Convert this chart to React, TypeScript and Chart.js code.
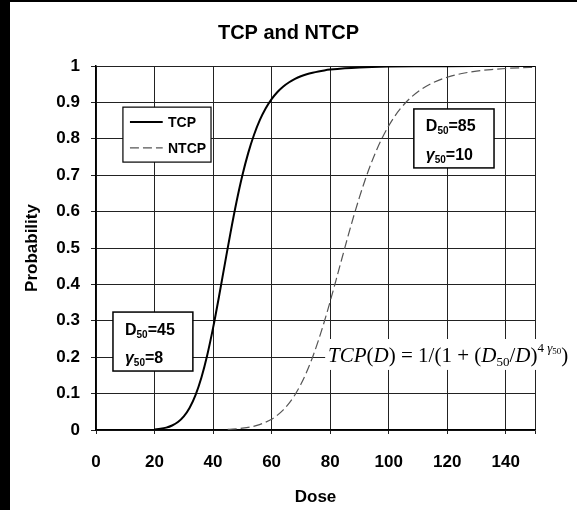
import React, { useEffect, useRef } from 'react';
import { Chart, registerables } from 'chart.js';

Chart.register(...registerables);

// ---------- data ----------
const TITLE = 'TCP and NTCP';
const X_TITLE = 'Dose';
const Y_TITLE = 'Probability';
const SERIES_NAMES = ['TCP', 'NTCP'];

const X_TICKS = [0, 20, 40, 60, 80, 100, 120, 140, 150];
const Y_TICKS = [0, 0.1, 0.2, 0.3, 0.4, 0.5, 0.6, 0.7, 0.8, 0.9, 1];

const TCP_DOSE = [20, 22, 24, 26, 28, 30, 32, 34, 36, 38, 40, 42, 44, 46, 48, 50, 52, 54, 56, 58, 60, 62, 64, 66, 68, 70, 72, 74, 76, 78, 80, 85, 90, 100, 110, 120, 130, 140, 150];
const TCP_VALUES = [0.0015, 0.0033, 0.0065, 0.0123, 0.022, 0.0376, 0.0614, 0.096, 0.1437, 0.2055, 0.2805, 0.3654, 0.4552, 0.5438, 0.6263, 0.6991, 0.7607, 0.8112, 0.8519, 0.8839, 0.909, 0.9285, 0.9437, 0.9554, 0.9645, 0.9717, 0.9773, 0.9816, 0.9851, 0.9879, 0.9901, 0.9939, 0.9961, 0.9983, 0.9992, 0.9996, 0.9998, 0.9999, 0.9999];

const NTCP_DOSE = [45, 50, 55, 60, 62, 64, 66, 68, 70, 72, 74, 76, 78, 80, 82, 84, 86, 88, 90, 92, 94, 96, 98, 100, 102, 104, 106, 108, 110, 115, 120, 125, 130, 135, 140, 145, 150];
const NTCP_VALUES = [0.0017, 0.0049, 0.0127, 0.0298, 0.0409, 0.0553, 0.0738, 0.097, 0.1255, 0.1598, 0.2001, 0.2462, 0.2975, 0.3529, 0.4112, 0.4704, 0.5292, 0.5859, 0.6391, 0.6882, 0.7323, 0.7716, 0.8059, 0.8355, 0.861, 0.8826, 0.901, 0.9164, 0.9294, 0.9536, 0.9692, 0.9793, 0.9859, 0.9903, 0.9932, 0.9952, 0.9966];

const TCP_PARAMS = ['45', '8'];
const NTCP_PARAMS = ['85', '10'];

// ---------- layout (data coordinates) ----------
const SANS = '"Liberation Sans", Arial, Helvetica, sans-serif';
const SERIF = '"Liberation Serif", "Times New Roman", Times, serif';

const LEGEND_BOX = { x0: 9.2, x1: 39.3, y0: 0.887, y1: 0.736, lineX0: 11.6, lineX1: 22.8, textX: 24.6, rows: [0.846, 0.775] };
const TCP_BOX = { x0: 5.8, x1: 33.1, y0: 0.324, y1: 0.162 };
const NTCP_BOX = { x0: 108.6, x1: 136, y0: 0.882, y1: 0.72 };
const FORMULA = { x: 79.3, y: 0.206, bgX0: 78.3, bgY0: 0.25, bgY1: 0.165 };

type Run = { t: string; font: string; dy?: number };

function drawRuns(ctx: CanvasRenderingContext2D, runs: Run[], x: number, baseline: number) {
  let cx = x;
  for (const r of runs) {
    ctx.font = r.font;
    ctx.fillText(r.t, cx, baseline + (r.dy || 0));
    cx += ctx.measureText(r.t).width;
  }
}

const bgPlugin = {
  id: 'bg',
  beforeDraw(chart: any) {
    const { ctx, width, height } = chart;
    ctx.save();
    ctx.fillStyle = '#fff';
    ctx.fillRect(0, 0, width, height);
    ctx.fillStyle = '#000';
    ctx.fillRect(0, 0, 10, height);
    ctx.fillRect(0, 0, width, 2);
    ctx.restore();
  },
};

function paramBox(ctx: CanvasRenderingContext2D, chart: any, box: any, params: string[]) {
  const xs = chart.scales.x;
  const ys = chart.scales.y;
  const x0 = xs.getPixelForValue(box.x0);
  const x1 = xs.getPixelForValue(box.x1);
  const y0 = ys.getPixelForValue(box.y0);
  const y1 = ys.getPixelForValue(box.y1);
  ctx.fillStyle = '#fff';
  ctx.fillRect(x0, y0, x1 - x0, y1 - y0);
  ctx.strokeStyle = '#000';
  ctx.lineWidth = 1.5;
  ctx.strokeRect(x0, y0, x1 - x0, y1 - y0);
  const h = y1 - y0;
  ctx.fillStyle = '#000';
  ctx.textBaseline = 'alphabetic';
  ctx.textAlign = 'left';
  const big = `bold 16px ${SANS}`;
  const small = `bold 10px ${SANS}`;
  drawRuns(ctx, [
    { t: 'D', font: big },
    { t: '50', font: small, dy: 3 },
    { t: '=' + params[0], font: big },
  ], x0 + 12, y0 + h * 0.28 + 6);
  drawRuns(ctx, [
    { t: 'γ', font: `italic bold 16px ${SANS}` },
    { t: '50', font: small, dy: 3 },
    { t: '=' + params[1], font: big },
  ], x0 + 12, y0 + h * 0.76 + 6);
}

const annotPlugin = {
  id: 'annot',
  afterDraw(chart: any) {
    const { ctx } = chart;
    const xs = chart.scales.x;
    const ys = chart.scales.y;
    ctx.save();

    // legend
    const lx0 = xs.getPixelForValue(LEGEND_BOX.x0);
    const lx1 = xs.getPixelForValue(LEGEND_BOX.x1);
    const ly0 = ys.getPixelForValue(LEGEND_BOX.y0);
    const ly1 = ys.getPixelForValue(LEGEND_BOX.y1);
    ctx.fillStyle = '#fff';
    ctx.fillRect(lx0, ly0, lx1 - lx0, ly1 - ly0);
    ctx.strokeStyle = '#000';
    ctx.lineWidth = 1.2;
    ctx.strokeRect(lx0, ly0, lx1 - lx0, ly1 - ly0);
    chart.data.datasets.forEach((ds: any, i: number) => {
      const yy = ys.getPixelForValue(LEGEND_BOX.rows[i]);
      ctx.beginPath();
      ctx.strokeStyle = ds.borderColor;
      ctx.lineWidth = ds.borderWidth;
      ctx.setLineDash(ds.borderDash || []);
      ctx.moveTo(xs.getPixelForValue(LEGEND_BOX.lineX0), yy);
      ctx.lineTo(xs.getPixelForValue(LEGEND_BOX.lineX1), yy);
      ctx.stroke();
      ctx.setLineDash([]);
      ctx.fillStyle = '#000';
      ctx.font = `bold 14px ${SANS}`;
      ctx.textBaseline = 'middle';
      ctx.textAlign = 'left';
      ctx.fillText(ds.label, xs.getPixelForValue(LEGEND_BOX.textX), yy + 1);
    });

    paramBox(ctx, chart, TCP_BOX, TCP_PARAMS);
    paramBox(ctx, chart, NTCP_BOX, NTCP_PARAMS);

    // formula
    const fx = xs.getPixelForValue(FORMULA.x);
    const fy = ys.getPixelForValue(FORMULA.y);
    const bx0 = xs.getPixelForValue(FORMULA.bgX0);
    const by0 = ys.getPixelForValue(FORMULA.bgY0);
    const by1 = ys.getPixelForValue(FORMULA.bgY1);
    ctx.fillStyle = '#fff';
    ctx.fillRect(bx0, by0, chart.width - bx0, by1 - by0);
    ctx.fillStyle = '#000';
    ctx.textBaseline = 'alphabetic';
    ctx.textAlign = 'left';
    const it = `italic 21px ${SERIF}`;
    const rg = `21px ${SERIF}`;
    drawRuns(ctx, [
      { t: 'TCP', font: it },
      { t: '(', font: rg },
      { t: 'D', font: it },
      { t: ') = 1/(1 + (', font: rg },
      { t: 'D', font: it },
      { t: '50', font: `13px ${SERIF}`, dy: 4 },
      { t: '/', font: rg },
      { t: 'D', font: it },
      { t: ')', font: rg },
      { t: '4 ', font: `13px ${SERIF}`, dy: -10 },
      { t: 'γ', font: `italic 13px ${SERIF}`, dy: -10 },
      { t: '50', font: `9px ${SERIF}`, dy: -8 },
      { t: ')', font: rg },
    ], fx, fy + 7);

    ctx.restore();
  },
};

export default function App() {
  const ref = useRef<HTMLCanvasElement>(null);

  useEffect(() => {
    const canvas = ref.current;
    if (!canvas) return;
    const tickFont = { family: SANS, size: 17, weight: 'bold' as const };
    const chart = new Chart(canvas, {
      type: 'line',
      data: {
        datasets: [
          {
            label: SERIES_NAMES[0],
            data: TCP_DOSE.map((d, i) => ({ x: d, y: TCP_VALUES[i] })),
            borderColor: '#000',
            borderWidth: 2,
            pointRadius: 0,
            fill: false,
            cubicInterpolationMode: 'monotone',
          },
          {
            label: SERIES_NAMES[1],
            data: NTCP_DOSE.map((d, i) => ({ x: d, y: NTCP_VALUES[i] })),
            borderColor: '#555',
            borderWidth: 1.2,
            borderDash: [9, 4],
            pointRadius: 0,
            fill: false,
            cubicInterpolationMode: 'monotone',
          },
        ],
      },
      options: {
        responsive: false,
        animation: false,
        devicePixelRatio: 1,
        layout: { padding: 0 },
        plugins: {
          legend: { display: false },
          tooltip: { enabled: false },
          title: {
            display: true,
            text: TITLE,
            color: '#000',
            font: { family: SANS, size: 20, weight: 'bold' },
            padding: { top: 21, bottom: 21 },
          },
        },
        scales: {
          x: {
            type: 'linear',
            min: 0,
            max: 150,
            afterBuildTicks: (s: any) => {
              s.ticks = X_TICKS.map((v) => ({ value: v }));
            },
            afterFit: (s: any) => {
              s.height = 80;
            },
            ticks: {
              callback: (v: any) => (v === 150 ? '' : String(v)),
              color: '#000',
              font: tickFont,
              padding: 18,
              maxRotation: 0,
              autoSkip: false,
            },
            grid: { color: '#222', lineWidth: 1, tickLength: 4, drawTicks: true },
            border: { color: '#000', width: 1.5 },
            title: {
              display: true,
              text: X_TITLE,
              color: '#000',
              font: { family: SANS, size: 17, weight: 'bold' },
              padding: { top: 0, bottom: 2 },
            },
          },
          y: {
            type: 'linear',
            min: 0,
            max: 1,
            afterBuildTicks: (s: any) => {
              s.ticks = Y_TICKS.map((v) => ({ value: v }));
            },
            afterFit: (s: any) => {
              s.width = 96;
            },
            ticks: {
              callback: (v: any) => String(v),
              color: '#000',
              font: tickFont,
              padding: 11,
              autoSkip: false,
            },
            grid: { color: '#222', lineWidth: 1, tickLength: 5, drawTicks: true },
            border: { color: '#000', width: 1.5 },
            title: {
              display: true,
              text: Y_TITLE,
              color: '#000',
              font: { family: SANS, size: 17, weight: 'bold' },
              padding: { top: 22, bottom: 0 },
            },
          },
          yRightSpace: {
            type: 'linear',
            position: 'right',
            min: 0,
            max: 1,
            display: true,
            afterFit: (s: any) => {
              s.width = 42;
            },
            ticks: { display: false },
            grid: { display: false, drawTicks: false },
            border: { display: false },
          },
        },
      } as any,
      plugins: [bgPlugin, annotPlugin],
    });
    return () => chart.destroy();
  }, []);

  return (
    <div style={{ position: 'fixed', left: 0, top: 0, width: 577, height: 510, background: '#fff' }}>
      <canvas ref={ref} width={577} height={510} style={{ display: 'block', width: 577, height: 510 }} />
    </div>
  );
}
